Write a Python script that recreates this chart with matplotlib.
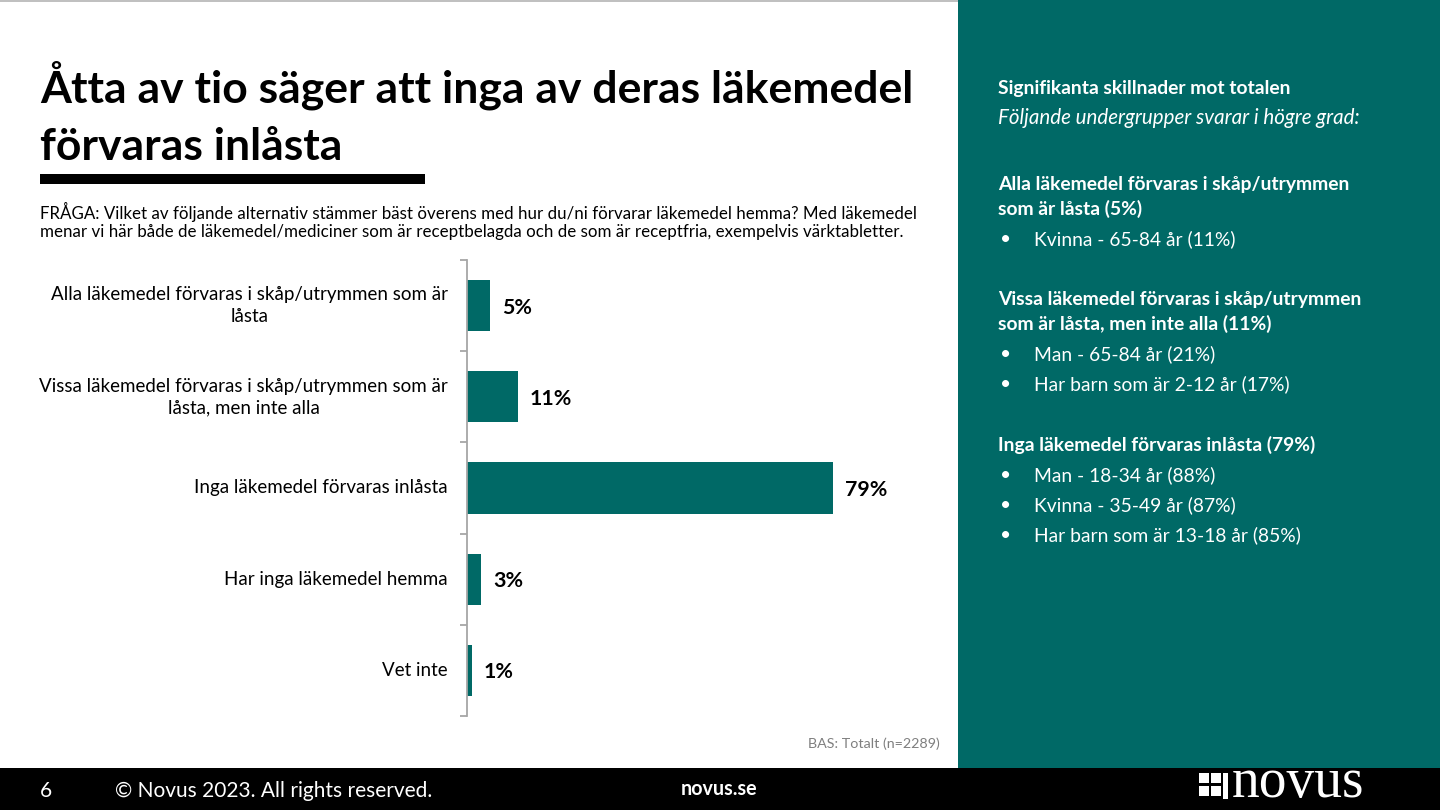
import matplotlib
matplotlib.use("Agg")
import matplotlib.pyplot as plt
from matplotlib.patches import Rectangle
import numpy as np

categories = [
    "Alla läkemedel förvaras i skåp/utrymmen som är\nlåsta",
    "Vissa läkemedel förvaras i skåp/utrymmen som är\nlåsta, men inte alla",
    "Inga läkemedel förvaras inlåsta",
    "Har inga läkemedel hemma",
    "Vet inte",
]
values = [5, 11, 79, 3, 1]
value_labels = ["5%", "11%", "79%", "3%", "1%"]

title = "Åtta av tio säger att inga av deras läkemedel\nförvaras inlåsta"
question = ("FRÅGA: Vilket av följande alternativ stämmer bäst överens med hur du/ni förvarar läkemedel hemma? Med läkemedel\n"
            "menar vi här både de läkemedel/mediciner som är receptbelagda och de som är receptfria, exempelvis värktabletter.")
base_note = "BAS: Totalt (n=2289)"

panel_title = "Signifikanta skillnader mot totalen"
panel_sub = "Följande undergrupper svarar i högre grad:"
panel_groups = [
    ("Alla läkemedel förvaras i skåp/utrymmen\nsom är låsta (5%)", ["Kvinna - 65-84 år (11%)"]),
    ("Vissa läkemedel förvaras i skåp/utrymmen\nsom är låsta, men inte alla (11%)",
     ["Man - 65-84 år (21%)", "Har barn som är 2-12 år (17%)"]),
    ("Inga läkemedel förvaras inlåsta (79%)",
     ["Man - 18-34 år (88%)", "Kvinna - 35-49 år (87%)", "Har barn som är 13-18 år (85%)"]),
]

TEAL = "#006966"
FONT = "Lato"
W, H = 1440, 810

plt.rcParams['font.family'] = [FONT, 'DejaVu Sans']

fig = plt.figure(figsize=(14.4, 8.1), dpi=100)
fig.patch.set_facecolor("white")

def fx(x):
    return x / W

def fy(y):
    return 1 - y / H

# backgrounds
fig.add_artist(Rectangle((fx(958), fy(768)), fx(W - 958), 768 / H, transform=fig.transFigure,
                         facecolor=TEAL, edgecolor="none", zorder=0))
fig.add_artist(Rectangle((0, 0), 1, 42 / H, transform=fig.transFigure,
                         facecolor="black", edgecolor="none", zorder=0))
fig.add_artist(Rectangle((0, fy(2)), fx(958), 2 / H, transform=fig.transFigure,
                         facecolor="#C0C0C0", edgecolor="none", zorder=0))

# title
tl = title.split("\n")
fig.text(fx(40), fy(103), tl[0], fontsize=32, fontweight="bold", color="black",
         va="baseline", ha="left")
fig.text(fx(40), fy(160), tl[1], fontsize=32, fontweight="bold", color="black",
         va="baseline", ha="left")
fig.add_artist(Rectangle((fx(40), fy(184)), fx(385), 10 / H, transform=fig.transFigure,
                         facecolor="black", edgecolor="none"))

qlines = question.split("\n")
fig.text(fx(40), fy(219), qlines[0], fontsize=12.2, color="black", va="baseline", ha="left")
fig.text(fx(40), fy(237.5), qlines[1], fontsize=12.2, color="black", va="baseline", ha="left")

# chart
ax = fig.add_axes([fx(467), fy(716), fx(930 - 467), (716 - 260) / H])
y = np.arange(len(categories))
ax.barh(y, values, height=0.56, color=TEAL, zorder=2)
ax.set_xlim(0, 100)
ax.set_ylim(len(categories) - 0.5, -0.5)
for s in ["top", "right", "bottom"]:
    ax.spines[s].set_visible(False)
ax.spines["left"].set_color("#A6A6A6")
ax.spines["left"].set_linewidth(1.3)
ax.set_xticks([])
ax.set_yticks(np.arange(len(categories) + 1) - 0.5)
ax.set_yticklabels([])
ax.tick_params(axis="y", length=5, width=1.3, color="#A6A6A6", direction="out")
ax.set_facecolor("none")

for yi, cat in zip(y, categories):
    ax.annotate(cat, xy=(0, yi), xycoords=("axes fraction", "data"), xytext=(-19, 0),
                textcoords="offset pixels", ha="right", va="center", fontsize=13.5,
                multialignment="center", color="black", linespacing=1.3)

for yi, v, lab in zip(y, values, value_labels):
    ax.annotate(lab, xy=(v, yi), xytext=(12, -2), textcoords="offset pixels",
                ha="left", va="center", fontsize=15.4, fontweight="bold", color="black")

fig.text(fx(940), fy(748), base_note, fontsize=10.3, color="#7F7F7F", va="baseline", ha="right")

# right panel
px = 998
PFS = 13.9
fig.text(fx(px), fy(94), panel_title, fontsize=PFS, fontweight="bold", color="white", va="baseline")
fig.text(fx(px), fy(124), panel_sub, fontsize=14.8, style="italic", color="white", va="baseline")

head_baselines = [190, 305, 451]
for (head, bullets), hb in zip(panel_groups, head_baselines):
    lines = head.split("\n")
    yb = hb
    for ln in lines:
        fig.text(fx(px), fy(yb), ln, fontsize=PFS, fontweight="bold", color="white", va="baseline")
        yb += 25
    yb += 5
    for b in bullets:
        fig.text(fx(px + 2), fy(yb), "•", fontsize=PFS, color="white", va="baseline")
        fig.text(fx(1034), fy(yb), b, fontsize=PFS, color="white", va="baseline")
        yb += 30

# footer
fig.text(fx(40), fy(797), "6", fontsize=15, color="white", va="baseline")
fig.text(fx(115), fy(797), "© Novus 2023. All rights reserved.", fontsize=15, color="white", va="baseline")
fig.text(fx(681), fy(795), "novus.se", fontsize=14.2, fontweight="bold", color="white", va="baseline")

# logo
sq = 10
for (lx, ly) in [(1199, 773), (1211, 773), (1199, 786), (1211, 786)]:
    fig.add_artist(Rectangle((fx(lx), fy(ly + sq)), fx(sq), sq / H, transform=fig.transFigure,
                             facecolor="white", edgecolor="none"))
fig.add_artist(Rectangle((fx(1223), fy(799)), fx(5), 26 / H, transform=fig.transFigure,
                         facecolor="white", edgecolor="none"))
fig.text(fx(1232), fy(797), "novus", fontsize=40, family="Liberation Serif", color="white",
         va="baseline", ha="left")

fig.savefig("out.png", dpi=100, facecolor=fig.get_facecolor())
